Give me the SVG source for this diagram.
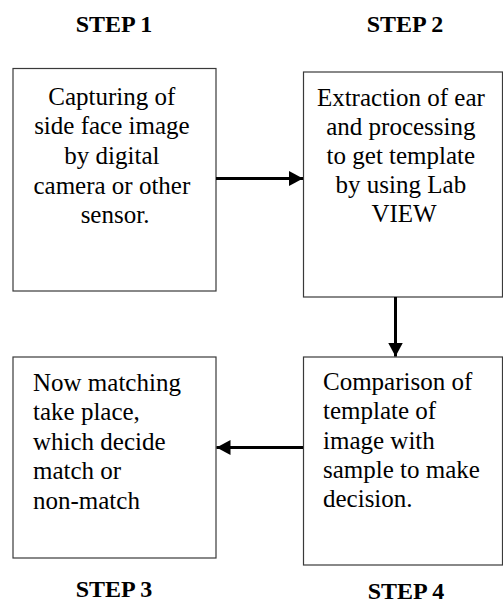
<svg xmlns="http://www.w3.org/2000/svg" width="503" height="605" viewBox="0 0 503 605">
  <style>
    .box { fill: #ffffff; stroke: #3a3a3a; stroke-width: 1.2; }
    .step { font-family: "Liberation Serif", "Times New Roman", serif; font-weight: bold; font-size: 24px; fill: #000; text-anchor: middle; }
    .body { font-family: "Liberation Serif", "Times New Roman", serif; font-size: 25px; fill: #000; }
    .mid { text-anchor: middle; }
    .conn { stroke: #000; stroke-width: 3; fill: none; marker-end: url(#arrow); }
  </style>
  <defs>
    <marker id="arrow" markerUnits="userSpaceOnUse" markerWidth="15" markerHeight="15" refX="14" refY="7.5" orient="auto">
      <path d="M0,0 L14,7.5 L0,15 Z" fill="#000"/>
    </marker>
  </defs>
  <rect width="503" height="605" fill="#ffffff"/>

  <g id="step1">
    <text class="step" x="114" y="32">STEP 1</text>
    <rect class="box" x="13" y="68.5" width="203" height="222.5"/>
    <text class="body mid" x="115">
      <tspan x="115" y="104.5">Capturing of</tspan>
      <tspan x="115" y="134.2">side face image</tspan>
      <tspan x="115" y="163.9">by digital</tspan>
      <tspan x="115" y="193.6">camera or other</tspan>
      <tspan x="115" y="223.3">sensor.</tspan>
    </text>
  </g>

  <g id="step2">
    <text class="step" x="405" y="32">STEP 2</text>
    <rect class="box" x="303.5" y="72" width="199" height="225"/>
    <text class="body mid" x="404">
      <tspan x="404" y="106">Extraction of ear</tspan>
      <tspan x="404" y="135">and processing</tspan>
      <tspan x="404" y="164">to get template</tspan>
      <tspan x="404" y="193">by using Lab</tspan>
      <tspan x="404" y="222">VIEW</tspan>
    </text>
  </g>

  <g id="step3">
    <rect class="box" x="13" y="357" width="203" height="201"/>
    <text class="body" x="33">
      <tspan x="33" y="390.5">Now matching</tspan>
      <tspan x="33" y="420">take place,</tspan>
      <tspan x="33" y="449.5">which decide</tspan>
      <tspan x="33" y="479">match or</tspan>
      <tspan x="33" y="508.5">non-match</tspan>
    </text>
    <text class="step" x="114" y="597">STEP 3</text>
  </g>

  <g id="step4">
    <rect class="box" x="303.5" y="357" width="199" height="208"/>
    <text class="body" x="323">
      <tspan x="323" y="390">Comparison of</tspan>
      <tspan x="323" y="419.3">template of</tspan>
      <tspan x="323" y="448.6">image with</tspan>
      <tspan x="323" y="477.9">sample to make</tspan>
      <tspan x="323" y="507.2">decision.</tspan>
    </text>
    <text class="step" x="406" y="599">STEP 4</text>
  </g>

  <g id="connectors">
    <line class="conn" x1="216" y1="178.5" x2="303" y2="178.5"/>
    <line class="conn" x1="395.5" y1="297" x2="395.5" y2="356.5"/>
    <line class="conn" x1="303" y1="447.5" x2="216.5" y2="447.5"/>
  </g>
</svg>
